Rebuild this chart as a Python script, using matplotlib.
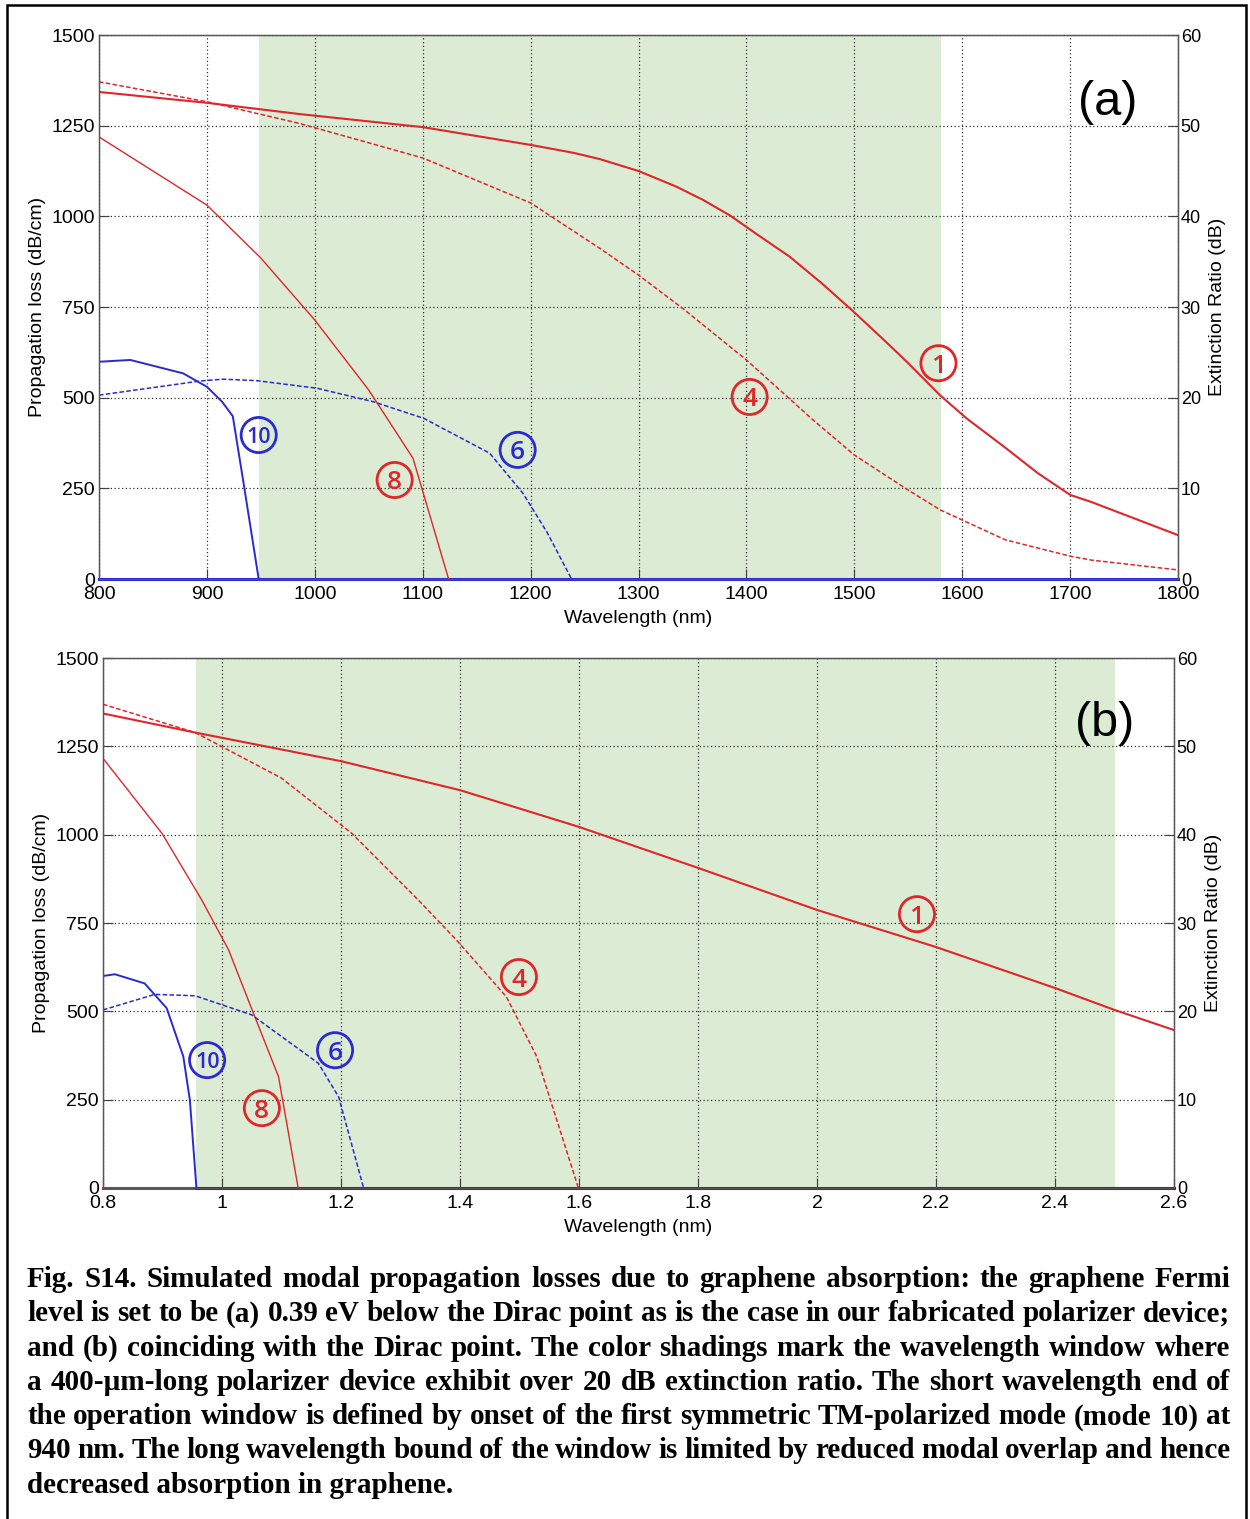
import numpy as np
import matplotlib.pyplot as plt
from matplotlib.patches import Rectangle

# ---- panel (a): wavelength in nm ----
a_x1 = [800, 900, 986, 1100, 1200, 1240, 1264, 1300, 1335, 1360, 1385, 1410, 1440, 1470, 1499,
        1530, 1550, 1579, 1604, 1640, 1670, 1700, 1720, 1800]
a_y1 = [1343, 1313, 1282, 1246, 1197, 1175, 1158, 1125, 1082, 1045, 1002, 950, 889, 815, 738,
        652, 595, 508, 443, 362, 292, 232, 212, 121]

a_x4 = [800, 900, 986, 1100, 1200, 1264, 1300, 1341, 1400, 1462, 1500, 1550, 1580, 1640, 1700, 1720, 1800]
a_y4 = [1371, 1316, 1256, 1161, 1037, 912, 838, 746, 604, 438, 342, 245, 190, 108, 63, 52, 25]

a_x8 = [800, 900, 950, 1000, 1050, 1091, 1124]
a_y8 = [1219, 1031, 885, 714, 521, 333, 0]

a_x10 = [800, 829, 878, 900, 914, 924, 934, 948]
a_y10 = [599, 604, 567, 530, 489, 449, 264, 0]

a_x6 = [800, 894, 915, 946, 1002, 1054, 1101, 1162, 1193, 1215, 1238]
a_y6 = [507, 546, 551, 547, 526, 489, 443, 347, 236, 130, 0]

# ---- panel (b): wavelength axis 0.8 - 2.6 ----
b_x1 = [0.8, 0.955, 1.2, 1.4, 1.6, 1.8, 2.0, 2.2, 2.4, 2.5, 2.6]
b_y1 = [1343, 1289, 1208, 1126, 1022, 906, 787, 682, 566, 504, 447]

b_x4 = [0.8, 0.955, 1.0, 1.1, 1.218, 1.33, 1.394, 1.478, 1.529, 1.551, 1.599]
b_y4 = [1369, 1289, 1249, 1160, 1004, 815, 702, 541, 372, 254, 0]

b_x8 = [0.8, 0.899, 0.966, 1.011, 1.053, 1.095, 1.128]
b_y8 = [1216, 1004, 815, 674, 494, 315, 0]

b_x10 = [0.8, 0.82, 0.87, 0.907, 0.935, 0.946, 0.957]
b_y10 = [600, 605, 579, 509, 372, 249, 0]

b_x6 = [0.8, 0.887, 0.955, 1.05, 1.162, 1.196, 1.238]
b_y6 = [504, 548, 544, 490, 353, 258, 0]

# shaded windows (>20 dB extinction)
a_window = (948, 1580)
b_window = (0.956, 2.5)

# circled mode labels: (text, x, y, colour key)
a_labels = [("1", 1578, 595, "r"), ("4", 1403, 502, "r"), ("8", 1074, 273, "r"),
            ("6", 1188, 356, "b"), ("10", 948, 397, "b")]
b_labels = [("1", 2.168, 775, "r"), ("4", 1.499, 597, "r"), ("8", 1.067, 226, "r"),
            ("6", 1.19, 390, "b"), ("10", 0.975, 362, "b")]

caption = [
    "Fig. S14. Simulated modal propagation losses due to graphene absorption: the graphene Fermi",
    "level is set to be (a) 0.39 eV below the Dirac point as is the case in our fabricated polarizer device;",
    "and (b) coinciding with the Dirac point. The color shadings mark the wavelength window where",
    "a 400-\u00b5m-long polarizer device exhibit over 20 dB extinction ratio. The short wavelength end of",
    "the operation window is defined by onset of the first symmetric TM-polarized mode (mode 10) at",
    "940 nm. The long wavelength bound of the window is limited by reduced modal overlap and hence",
    "decreased absorption in graphene.",
]

RED = '#e0262a'
BLUE = '#2a2ad2'
SHADE = '#dcebd3'
cols = {"r": RED, "b": BLUE}

plt.rcParams['font.family'] = ['Liberation Sans', 'DejaVu Sans']

W, H = 1250, 1519
fig = plt.figure(figsize=(W / 100, H / 100), dpi=100)


def px_axes(l, t, r, b):
    return fig.add_axes([l / W, 1 - b / H, (r - l) / W, (b - t) / H])


def setup(ax, xlim, xticks, xticklabels, window, label, labels, curves):
    ax.set_xlim(*xlim)
    ax.set_ylim(0, 1500)
    ax.axvspan(window[0], window[1], color=SHADE, lw=0, zorder=0)
    ax.set_xticks(xticks)
    ax.set_xticklabels(xticklabels)
    ax.set_yticks(np.arange(0, 1501, 250))
    ax.grid(True, color='#303030', linestyle=(0, (1, 2)), linewidth=0.9, zorder=1)
    ax.tick_params(direction='in', length=7, labelsize=14, color='#404040',
                   top=False, right=False, pad=3)
    ax.tick_params(axis='x', pad=5)
    for s in ax.spines.values():
        s.set_color('#555555')
        s.set_linewidth(1.0)
    ax.set_xlabel('Wavelength (nm)', fontsize=14, labelpad=5)
    ax.set_ylabel('Propagation loss (dB/cm)', fontsize=14, labelpad=4)

    for xs, ys, c, ls, lw in curves:
        ax.plot(xs, ys, color=c, linestyle=ls, linewidth=lw, zorder=3)

    for txt, x, y, ck in labels:
        ax.scatter([x], [y], s=640, facecolors='none', edgecolors=cols[ck], linewidths=2.0, zorder=5)
        ax.text(x, y, txt, color=cols[ck], fontsize=19 if len(txt) == 1 else 15.5,
                fontweight='semibold', ha='center', va='center_baseline', zorder=6,
                family=['Open Sans', 'DejaVu Sans'])

    ax.text(0.935, 0.876, label, transform=ax.transAxes, fontsize=35,
            ha='center', va='center', zorder=6)

    ax2 = ax.twinx()
    ax2.set_ylim(0, 60)
    ax2.set_yticks(np.arange(0, 61, 10))
    ax2.tick_params(direction='in', length=7, labelsize=13, color='#404040', pad=2)
    ax2.set_ylabel('Extinction Ratio (dB)', fontsize=14, labelpad=6)
    for s in ax2.spines.values():
        s.set_color('#555555')
    return ax2


axa = px_axes(99, 35, 1178, 579)
curves_a = [
    (a_x1, a_y1, RED, '-', 1.5),
    (a_x4, a_y4, RED, (0, (3, 1.5)), 1.1),
    (a_x8, a_y8, RED, '-', 1.0),
    (a_x10, a_y10, BLUE, '-', 1.4),
    (a_x6, a_y6, BLUE, (0, (3, 1.5)), 1.1),
]
axa.plot([800, 1800], [0, 0], color=BLUE, lw=2.2, zorder=3, clip_on=False)
setup(axa, (800, 1800), np.arange(800, 1801, 100), [str(v) for v in range(800, 1801, 100)],
      a_window, '(a)', a_labels, curves_a)

axb = px_axes(103, 658, 1174, 1188)
curves_b = [
    (b_x1, b_y1, RED, '-', 1.5),
    (b_x4, b_y4, RED, (0, (3, 1.5)), 1.1),
    (b_x8, b_y8, RED, '-', 1.0),
    (b_x10, b_y10, BLUE, '-', 1.4),
    (b_x6, b_y6, BLUE, (0, (3, 1.5)), 1.1),
]
axb.plot([0.8, 2.6], [0, 0], color='#d02828', lw=2.2, zorder=3, clip_on=False)
axb.plot([b_x10[-1], 2.6], [0, 0], color=BLUE, lw=2.2, zorder=3, clip_on=False)
bt = np.round(np.arange(0.8, 2.61, 0.2), 1)
setup(axb, (0.8, 2.6), bt, [('%g' % v) for v in bt], b_window, '(b)', b_labels, curves_b)

# outer frame
fig.add_artist(Rectangle((7 / W, -0.01), (1246 - 7) / W, 1.01 - 5 / H, transform=fig.transFigure,
                         fill=False, edgecolor='black', linewidth=1.8))

# justified caption
renderer = fig.canvas.get_renderer()
left, right = 27 / W, 1230 / W
cap_kw = dict(fontweight='bold', family=['Liberation Serif', 'DejaVu Serif'],
              va='baseline', ha='left')
for i, line in enumerate(caption):
    yb = 1 - (1287 + i * 34.3) / H
    words = line.split(' ')
    if i == len(caption) - 1:
        fig.text(left, yb, line, fontsize=21, **cap_kw)
        continue
    fs = 21
    while True:
        objs = [fig.text(left, yb, w, fontsize=fs, **cap_kw) for w in words]
        widths = [o.get_window_extent(renderer).width / W for o in objs]
        gap = (right - left - sum(widths)) / (len(words) - 1)
        if gap > 2.5 / W or fs < 17:
            break
        for o in objs:
            o.remove()
        fs -= 0.25
    x = left
    for o, w in zip(objs, widths):
        o.set_x(x)
        x += w + gap

fig.savefig('out.png', dpi=100)
